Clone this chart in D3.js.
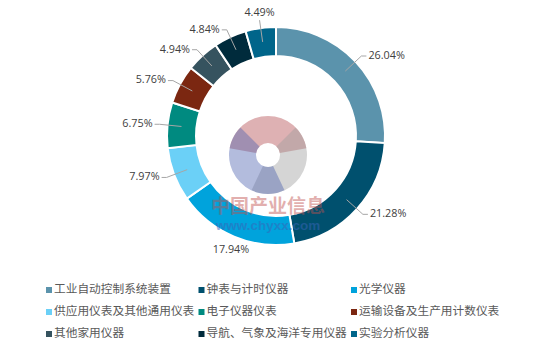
<!DOCTYPE html>
<html>
<head>
<meta charset="utf-8">
<script src="https://cdn.jsdelivr.net/npm/d3@7"></script>
<style>
  html, body { margin: 0; padding: 0; background: #fff; }
  svg { display: block; }
</style>
</head>
<body>
<svg id="chart"></svg>
<script>
const categories = ['工业自动控制系统装置', '钟表与计时仪器', '光学仪器',
  '供应用仪表及其他通用仪表', '电子仪器仪表', '运输设备及生产用计数仪表',
  '其他家用仪器', '导航、气象及海洋专用仪器', '实验分析仪器'];
const shares = [26.04, 21.28, 17.94, 7.97, 6.75, 5.76, 4.94, 4.84, 4.49];
const sliceColors = ['#5b93ac', '#00506e', '#00a3dc', '#6bd0f7', '#008a80',
  '#7b2711', '#36535f', '#002b3c', '#00658a'];

const width = 535;
const height = 347;
const cx = 276;
const cy = 136;
const outerR = 109;
const innerR = 80;

const svg = d3.select('#chart')
  .attr('width', width)
  .attr('height', height);

const color = d3.scaleOrdinal().domain(categories).range(sliceColors);

const pie = d3.pie().sort(null).value(d => d.value);
const arcs = pie(categories.map((c, i) => ({ name: c, value: shares[i] })));

const arc = d3.arc().innerRadius(innerR).outerRadius(outerR);

const donut = svg.append('g').attr('transform', `translate(${cx},${cy})`);

donut.selectAll('path')
  .data(arcs)
  .enter()
  .append('path')
  .attr('d', arc)
  .attr('fill', d => color(d.data.name))
  .attr('stroke', '#fff')
  .attr('stroke-width', 2);

// data labels with leader lines
const pointAt = (a, r) => [r * Math.sin(a), -r * Math.cos(a)];

arcs.forEach(d => {
  const a = (d.startAngle + d.endAngle) / 2;
  const s = Math.sin(a);
  const c = Math.cos(a);
  const p0 = pointAt(a, 95);
  const e = pointAt(a, 117);
  const label = d.data.value.toFixed(2) + '%';

  if (Math.abs(s) < 0.4) {
    if (c > 0) {
      donut.append('line')
        .attr('x1', p0[0]).attr('y1', p0[1])
        .attr('x2', e[0]).attr('y2', e[1])
        .attr('stroke', '#a6a6a6').attr('stroke-width', 1);
    }
    donut.append('text')
      .attr('x', e[0])
      .attr('y', c > 0 ? e[1] - 7 : e[1] + 6)
      .attr('text-anchor', 'middle')
      .attr('dominant-baseline', 'middle')
      .attr('class', 'lbl')
      .text(label);
  } else {
    const dir = s > 0 ? 1 : -1;
    donut.append('polyline')
      .attr('points', [p0, e, [e[0] + dir * 5, e[1]]].map(p => p.join(',')).join(' '))
      .attr('fill', 'none')
      .attr('stroke', '#a6a6a6').attr('stroke-width', 1);
    donut.append('text')
      .attr('x', e[0] + dir * 7)
      .attr('y', e[1])
      .attr('text-anchor', dir > 0 ? 'start' : 'end')
      .attr('dominant-baseline', 'middle')
      .attr('class', 'lbl')
      .text(label);
  }
});

donut.selectAll('.lbl')
  .attr('font-family', '"Open Sans", "Liberation Sans", sans-serif')
  .attr('font-size', '10.8px')
  .attr('fill', '#404040');

// watermark
const mark = svg.append('g').attr('transform', 'translate(268,155)');
const logoArc = d3.arc().innerRadius(12).outerRadius(39);
const deg = Math.PI / 180;
[[-80, 80, '#b0454a'], [45, 205, '#9a9a9a'], [155, 315, '#4a5fae']].forEach(([a0, a1, col]) => {
  mark.append('path')
    .attr('d', logoArc({ startAngle: a0 * deg, endAngle: a1 * deg }))
    .attr('fill', col)
    .attr('opacity', 0.42);
});

svg.append('text')
  .attr('x', 268).attr('y', 208)
  .attr('text-anchor', 'middle')
  .attr('dominant-baseline', 'middle')
  .attr('font-family', '"Noto Sans CJK SC", sans-serif')
  .attr('font-weight', 'bold')
  .attr('font-size', '19px')
  .attr('fill', '#c0504d')
  .attr('opacity', 0.45)
  .text('中国产业信息');

svg.append('text')
  .attr('x', 268).attr('y', 226)
  .attr('text-anchor', 'middle')
  .attr('dominant-baseline', 'middle')
  .attr('font-family', '"Liberation Sans", Arial, sans-serif')
  .attr('font-weight', 'bold')
  .attr('font-size', '13.5px')
  .attr('fill', '#3a64b8')
  .attr('opacity', 0.5)
  .text('www.chyxx.com');

// legend, three columns
const colX = d3.scalePoint().domain([0, 1, 2]).range([46, 351]);
const rowY = d3.scalePoint().domain([0, 1, 2]).range([290, 334]);

const legend = svg.append('g');
const item = legend.selectAll('g')
  .data(categories)
  .enter()
  .append('g')
  .attr('transform', (d, i) => `translate(${colX(i % 3)},${rowY(Math.floor(i / 3))})`);

item.append('rect')
  .attr('x', 0).attr('y', -3)
  .attr('width', 6).attr('height', 6)
  .attr('fill', d => color(d));

item.append('text')
  .attr('x', 8).attr('y', 0)
  .attr('dominant-baseline', 'middle')
  .attr('font-family', '"Noto Sans CJK SC", sans-serif')
  .attr('font-size', '11.7px')
  .attr('fill', '#595959')
  .text(d => d);
</script>
</body>
</html>
